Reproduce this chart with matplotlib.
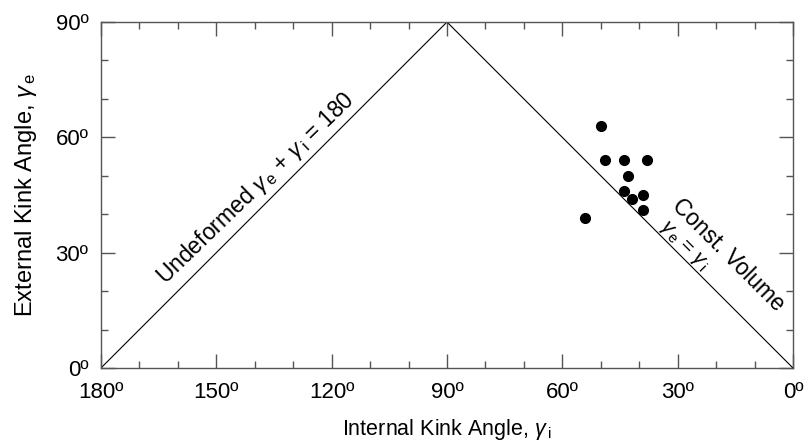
import matplotlib
matplotlib.use("Agg")
import matplotlib.pyplot as plt
import matplotlib.transforms as mtransforms
from matplotlib.ticker import MultipleLocator, FuncFormatter

plt.rcParams['font.family'] = ['Liberation Sans', 'DejaVu Sans']
plt.rcParams['mathtext.fontset'] = 'custom'
plt.rcParams['mathtext.rm'] = 'Liberation Sans'
plt.rcParams['mathtext.it'] = 'Liberation Sans:italic'

# boundary lines (internal angle, external angle)
undeformed_x = [180, 90]
undeformed_y = [0, 90]
const_vol_x = [90, 0]
const_vol_y = [90, 0]

# measured kink angles
gamma_i = [50, 49, 44, 38, 43, 44, 42, 39, 39, 54]
gamma_e = [63, 54, 54, 54, 50, 46, 44, 45, 41, 39]


def deg(v, pos):
    return f"{v:.0f}\u00ba"


fig = plt.figure(figsize=(8.09, 4.43), dpi=100)
ax = fig.add_axes([0.1248, 0.1693, 0.8554, 0.781])

ax.plot(undeformed_x, undeformed_y, color='black', lw=0.8)
ax.plot(const_vol_x, const_vol_y, color='black', lw=0.8)
ax.plot(gamma_i, gamma_e, 'o', color='black', ms=7)

ax.set_xlim(180, 0)
ax.set_ylim(0, 90)

ax.xaxis.set_major_locator(MultipleLocator(30))
ax.xaxis.set_minor_locator(MultipleLocator(10))
ax.yaxis.set_major_locator(MultipleLocator(30))
ax.yaxis.set_minor_locator(MultipleLocator(10))
ax.xaxis.set_major_formatter(FuncFormatter(deg))
ax.yaxis.set_major_formatter(FuncFormatter(deg))

ax.tick_params(which='both', direction='in', top=True, right=True,
               color='#555555', labelsize=16, width=1)
ax.tick_params(which='major', length=10)
ax.tick_params(which='minor', length=5)
ax.tick_params(axis='x', which='major', pad=10)
ax.tick_params(axis='y', which='major', pad=9)
for s in ax.spines.values():
    s.set_color('#555555')
    s.set_linewidth(1)

# the 0 label on the y axis sits closer to the spine
fig.canvas.draw()
ylabs = ax.get_yticklabels()
ylabs[0].set_transform(ylabs[0].get_transform() +
                       mtransforms.ScaledTranslation(7 / 100, 0, fig.dpi_scale_trans))

ax.set_xlabel(r"Internal Kink Angle, $\gamma_{\,\rm i}$", fontsize=15.5, labelpad=10)
ax.set_ylabel(r"External Kink Angle, $\gamma_{\,\rm e}$", fontsize=17, labelpad=12)

ax.text(139.7, 46.8, r"Undeformed $\gamma_{\,\rm e}$ + $\gamma_{\,\rm i}$ = 180",
        fontsize=16.5, rotation=44, rotation_mode='anchor',
        ha='center', va='center')
ax.text(28.5, 31.6, r"$\gamma_{\,\rm e}$ = $\gamma_{\,\rm i}$",
        fontsize=15, rotation=-45, rotation_mode='anchor',
        ha='center', va='center')
ax.text(16.9, 29.4, "Const. Volume",
        fontsize=16.5, rotation=-45, rotation_mode='anchor',
        ha='center', va='center')

fig.savefig("out.png", dpi=100)
